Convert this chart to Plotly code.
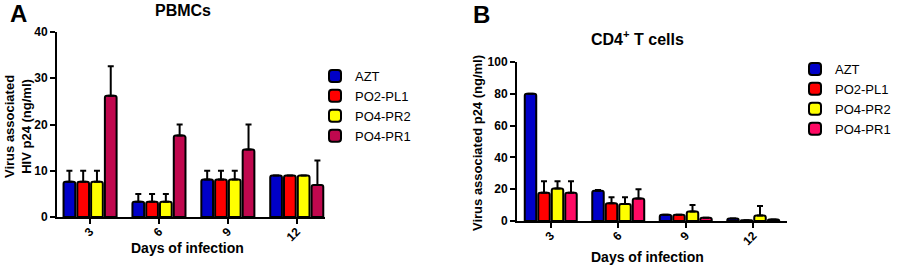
import plotly.graph_objects as go

# ---------------- data ----------------
days = ["3", "6", "9", "12"]
series = ["AZT", "PO2-PL1", "PO4-PR2", "PO4-PR1"]

# Panel A: PBMCs (ng/ml)
pbmc_azt = [7.6, 3.3, 8.1, 9.0]
pbmc_po2_pl1 = [7.6, 3.3, 8.1, 9.0]
pbmc_po4_pr2 = [7.6, 3.3, 8.1, 9.0]
pbmc_po4_pr1 = [26.2, 17.6, 14.6, 6.9]
pbmc_err_azt = [2.4, 1.7, 1.9, 0.0]
pbmc_err_po2_pl1 = [2.4, 1.7, 1.9, 0.0]
pbmc_err_po4_pr2 = [2.4, 1.7, 1.9, 0.0]
pbmc_err_po4_pr1 = [6.4, 2.4, 5.4, 5.3]

# Panel B: CD4+ T cells (ng/ml)
cd4_azt = [80.0, 19.0, 4.0, 1.5]
cd4_po2_pl1 = [17.8, 11.1, 4.0, 0.5]
cd4_po4_pr2 = [20.5, 10.7, 6.0, 3.5]
cd4_po4_pr1 = [17.8, 14.2, 2.0, 1.0]
cd4_err_azt = [0.0, 0.5, 0.0, 0.0]
cd4_err_po2_pl1 = [7.2, 3.9, 0.0, 0.0]
cd4_err_po4_pr2 = [4.5, 4.3, 4.0, 6.0]
cd4_err_po4_pr1 = [7.2, 5.8, 0.0, 0.0]

colors_a = ["#0000c8", "#ff0000", "#ffff00", "#c0084e"]
colors_b = ["#0000c8", "#ff0000", "#ffff00", "#ff0a64"]

W, H = 899, 266
FONT = "Arial, Liberation Sans, sans-serif"


def px_x(p):
    return p / W


def px_y(p):
    return 1 - p / H


fig = go.Figure()

vals_a = [pbmc_azt, pbmc_po2_pl1, pbmc_po4_pr2, pbmc_po4_pr1]
errs_a = [pbmc_err_azt, pbmc_err_po2_pl1, pbmc_err_po4_pr2, pbmc_err_po4_pr1]
vals_b = [cd4_azt, cd4_po2_pl1, cd4_po4_pr2, cd4_po4_pr1]
errs_b = [cd4_err_azt, cd4_err_po2_pl1, cd4_err_po4_pr2, cd4_err_po4_pr1]


def err(e):
    return dict(type="data", symmetric=False, array=e, arrayminus=[0] * len(e),
                color="black", thickness=2, width=3)


for name, v, e, c in zip(series, vals_a, errs_a, colors_a):
    fig.add_trace(go.Bar(x=days, y=v, name=name, error_y=err(e),
                         marker=dict(color=c, line=dict(color="black", width=2), cornerradius=2),
                         xaxis="x", yaxis="y", legend="legend", offsetgroup=name))

for name, v, e, c in zip(series, vals_b, errs_b, colors_b):
    fig.add_trace(go.Bar(x=days, y=v, name=name, error_y=err(e),
                         marker=dict(color=c, line=dict(color="black", width=2), cornerradius=2),
                         xaxis="x2", yaxis="y2", legend="legend2", offsetgroup=name))

axis_common = dict(showline=True, linecolor="black", linewidth=2, ticks="outside",
                   ticklen=5, tickwidth=2, tickcolor="black", showgrid=False, zeroline=False,
                   automargin=False,
                   tickfont=dict(family=FONT, size=12, color="black", weight="bold"))

fig.update_layout(
    width=W, height=H,
    margin=dict(l=0, r=0, t=0, b=0, autoexpand=False),
    paper_bgcolor="white", plot_bgcolor="white",
    barmode="group", bargap=0.2, bargroupgap=0.15,
    font=dict(family=FONT, color="black"),
    xaxis=dict(domain=[px_x(57), px_x(325)], anchor="y", type="category",
               range=[-0.48, 3.41], tickangle=-45, ticklabelstandoff=-4, **axis_common),
    yaxis=dict(domain=[px_y(217), px_y(32)], anchor="x", range=[0, 40], dtick=10, **axis_common),
    xaxis2=dict(domain=[px_x(517), px_x(787)], anchor="y2", type="category",
                range=[-0.5, 3.5], tickangle=-45, ticklabelstandoff=-4, **axis_common),
    yaxis2=dict(domain=[px_y(221), px_y(62)], anchor="x2", range=[0, 100], dtick=20, **axis_common),
    legend=dict(x=px_x(315), y=px_y(61), xanchor="left", yanchor="top",
                font=dict(family=FONT, size=13, color="black"), bgcolor="rgba(0,0,0,0)",
                tracegroupgap=0),
    legend2=dict(x=px_x(795), y=px_y(54), xanchor="left", yanchor="top",
                 font=dict(family=FONT, size=13, color="black"), bgcolor="rgba(0,0,0,0)",
                 tracegroupgap=0),
    showlegend=True,
)

ann = [
    dict(text="<b>A</b>", x=px_x(18), y=px_y(13), size=24, angle=0),
    dict(text="<b>B</b>", x=px_x(481), y=px_y(15), size=24, angle=0),
    dict(text="<b>PBMCs</b>", x=px_x(183), y=px_y(10), size=16, angle=0),
    dict(text="<b>CD4<sup>+</sup> T cells</b>", x=px_x(637), y=px_y(38), size=16, angle=0),
    dict(text="<b>Virus associated<br>HIV p24 (ng/ml)</b>", x=px_x(18), y=px_y(127), size=13, angle=-90),
    dict(text="<b>Virus associated p24 (ng/ml)</b>", x=px_x(477), y=px_y(143), size=13, angle=-90),
    dict(text="<b>Days of infection</b>", x=px_x(187), y=px_y(248), size=14, angle=0),
    dict(text="<b>Days of infection</b>", x=px_x(647), y=px_y(257), size=14, angle=0),
]
for a in ann:
    fig.add_annotation(text=a["text"], x=a["x"], y=a["y"], xref="paper", yref="paper",
                       xanchor="center", yanchor="middle", showarrow=False, textangle=a["angle"],
                       font=dict(family=FONT, size=a["size"], color="black"))

fig.write_html("out.html", config={"displayModeBar": False},
               post_script="document.body.style.margin='0';document.body.style.overflow='hidden';")
